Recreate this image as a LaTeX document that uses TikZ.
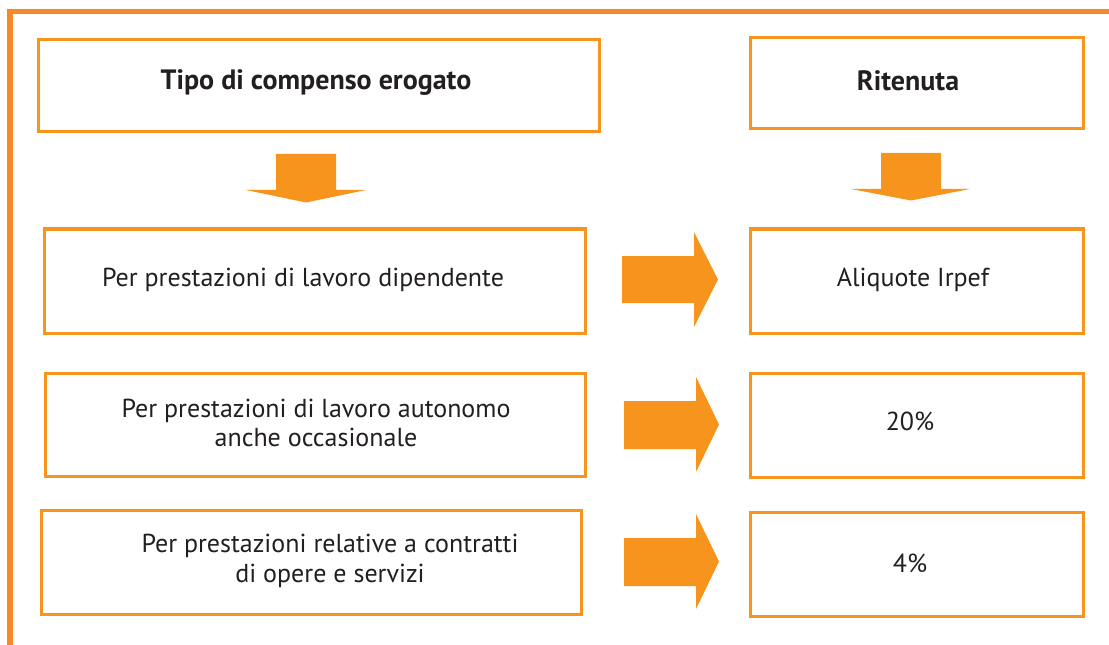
\documentclass[tikz,border=0pt]{standalone}
\usepackage{fontspec}
\setmainfont{PT Sans}
\definecolor{boxor}{HTML}{F7941D}
\definecolor{frameor}{HTML}{F6872A}
\definecolor{txt}{HTML}{231F20}
\begin{document}
\begin{tikzpicture}[x=0.75pt,y=-0.75pt,
  box/.style={draw=boxor,line width=2.3pt,fill=white},
  lbl/.style={text=txt,align=center,font=\fontsize{19.5}{22}\selectfont,inner sep=0pt},
  head/.style={text=txt,font=\bfseries\fontsize{21}{24}\selectfont,inner sep=0pt},
  blockarrow/.style={fill=boxor,draw=none}]
\useasboundingbox (0,0) rectangle (1109,645);
% frame
\draw[frameor,line width=3.8pt] (10,645) -- (10,11.5) -- (1109,11.5);
% boxes
\node[box,minimum width=561*0.75pt,minimum height=92*0.75pt,anchor=north west] (b1) at (37,38) {};
\node[box,minimum width=333*0.75pt,minimum height=91*0.75pt,anchor=north west] (r1) at (749,36) {};
\node[box,minimum width=541*0.75pt,minimum height=104*0.75pt,anchor=north west] (b2) at (43,227.5) {};
\node[box,minimum width=540*0.75pt,minimum height=103*0.75pt,anchor=north west] (b3) at (44,371.5) {};
\node[box,minimum width=540*0.75pt,minimum height=104*0.75pt,anchor=north west] (b4) at (40,508.5) {};
\node[box,minimum width=333*0.75pt,minimum height=104*0.75pt,anchor=north west] (r2) at (749,227.5) {};
\node[box,minimum width=333*0.75pt,minimum height=104*0.75pt,anchor=north west] (r3) at (749,371.5) {};
\node[box,minimum width=333*0.75pt,minimum height=104*0.75pt,anchor=north west] (r4) at (749,511) {};
% texts
\node[head] (t1) at (316,83) {Tipo di compenso erogato};
\node[head] (t2) at (908,81) {Ritenuta};
\node[lbl] (t3) at (303,280) {Per prestazioni di lavoro dipendente};
\node[lbl] (t4) at (316,423) {Per prestazioni di lavoro autonomo\\anche occasionale};
\node[lbl] (t5) at (330,561) {Per prestazioni relative a contratti\\di opere e servizi};
\node[lbl] (t6) at (913,280) {Aliquote Irpef};
\node[lbl] (t7) at (910,421) {20\%};
\node[lbl] (t8) at (910,563) {4\%};
% down arrows
\fill[boxor] (276,154) -- (336,154) -- (336,190) -- (366,190) -- (306,202.5) -- (246,190) -- (276,190) -- cycle;
\fill[boxor] (881,153) -- (941,153) -- (941,189) -- (970,189) -- (911,200.5) -- (851,189) -- (881,189) -- cycle;
% right arrows
\fill[boxor] (622,256) -- (694,256) -- (694,232) -- (718,279.5) -- (694,327) -- (694,303) -- (622,303) -- cycle;
\fill[boxor] (624,401) -- (696,401) -- (696,377) -- (719,424.5) -- (696,472) -- (696,449) -- (624,449) -- cycle;
\fill[boxor] (624,538) -- (696,538) -- (696,514) -- (719,561.5) -- (696,609) -- (696,586) -- (624,586) -- cycle;
\end{tikzpicture}
\end{document}
